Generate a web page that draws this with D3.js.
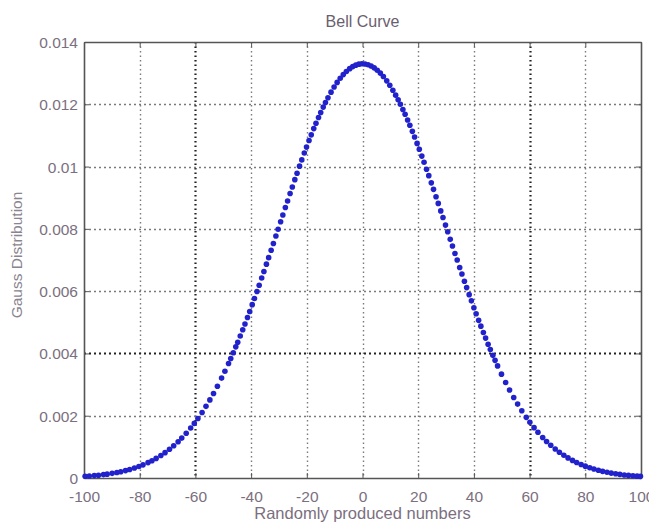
<!DOCTYPE html>
<html>
  <head>
    <meta charset="utf-8">
    <title>Bell Curve</title>
    <script src="https://cdn.jsdelivr.net/npm/d3@7"></script>
    <style>
      body { margin: 0; background: #fff; }
      svg text { font-family: "Liberation Sans", Arial, sans-serif; }
    </style>
  </head>
  <body>
    <div id="chart"></div>
    <script>
    var sampleX = [
      -99.6, -98.1, -96.3, -94.8, -93.0, -91.7, -89.9, -88.2, -86.8, -85.1, -83.6, -81.9,
      -80.3, -78.8, -77.0, -75.6, -74.1, -72.4, -70.9, -69.3, -67.8, -66.2, -64.9, -63.3,
      -61.7, -60.4, -59.1, -57.6, -56.2, -54.8, -53.5, -52.1, -50.6, -49.4,
      -48.1, -47.3, -46.4, -45.5, -44.8, -43.9, -43.0, -42.2, -41.3, -40.5, -39.6, -38.8,
      -37.9, -37.1, -36.2, -35.4, -34.5, -33.7, -32.8, -32.0, -31.1, -30.3, -29.4, -28.6,
      -27.7, -26.9, -26.0, -25.2, -24.3, -23.5, -22.6, -21.8, -20.9, -20.1, -19.2, -18.4,
      -17.5, -16.7, -15.8, -15.0, -14.1, -13.3, -12.4,
      -11.3, -10.2, -9.1, -8.0, -6.9, -5.8, -4.6, -3.5, -2.4, -1.3, -0.2, 0.9, 2.0, 3.1,
      4.2, 5.3, 6.4, 7.5, 8.7, 9.8, 10.9,
      11.9, 12.8, 13.6, 14.5, 15.3, 16.2, 17.0, 17.9, 18.7, 19.6, 20.4, 21.3, 22.1, 23.0,
      23.8, 24.7, 25.5, 26.4, 27.2, 28.1, 28.9, 29.8, 30.6, 31.5, 32.3, 33.2, 34.0, 34.9,
      35.7, 36.6, 37.4, 38.3, 39.1, 40.0, 40.8, 41.7, 42.5, 43.4, 44.2, 45.1, 45.9, 46.8,
      47.6, 48.5,
      49.9, 51.4, 52.8, 54.3, 55.7, 57.2, 58.8, 60.1, 61.6, 63.0, 64.7, 66.1, 67.6, 69.2,
      70.7, 72.3, 73.8, 75.4, 76.9, 78.5, 80.0, 81.6, 83.1, 84.7, 86.2, 87.8, 89.3, 90.9,
      92.4, 94.0, 95.5, 97.1, 98.6, 99.8
    ];
    var gaussY = [
      0.000054, 0.000063, 0.000077, 0.000090, 0.000109, 0.000124, 0.000149, 0.000177, 0.000202, 0.000238, 0.000274, 0.000320,
      0.000370, 0.000422, 0.000494, 0.000556, 0.000630, 0.000723, 0.000814, 0.000923, 0.001034, 0.001165, 0.001281, 0.001436,
      0.001604, 0.001753, 0.001911, 0.002105, 0.002300, 0.002508, 0.002712, 0.002945, 0.003208, 0.003427,
      0.003679, 0.003837, 0.004022, 0.004211, 0.004361, 0.004558, 0.004761, 0.004946, 0.005155, 0.005348, 0.005566, 0.005764,
      0.005989, 0.006191, 0.006423, 0.006631, 0.006867, 0.007076, 0.007315, 0.007529, 0.007773, 0.007987, 0.008230, 0.008446,
      0.008686, 0.008896, 0.009136, 0.009346, 0.009580, 0.009786, 0.010014, 0.010214, 0.010434, 0.010625, 0.010837, 0.011019,
      0.011220, 0.011391, 0.011578, 0.011737, 0.011909, 0.012055, 0.012211,
      0.012389, 0.012553, 0.012702, 0.012836, 0.012953, 0.013054, 0.013144, 0.013210, 0.013257, 0.013288, 0.013300, 0.013294, 0.013271, 0.013229,
      0.013170, 0.013094, 0.013001, 0.012891, 0.012752, 0.012609, 0.012450,
      0.012293, 0.012143, 0.012001, 0.011834, 0.011678, 0.011496, 0.011327, 0.011131, 0.010951, 0.010744, 0.010555, 0.010337, 0.010140, 0.009914,
      0.009709, 0.009477, 0.009268, 0.009031, 0.008818, 0.008577, 0.008363, 0.008121, 0.007906, 0.007663, 0.007449, 0.007210, 0.006998, 0.006761,
      0.006552, 0.006319, 0.006114, 0.005888, 0.005689, 0.005468, 0.005275, 0.005062, 0.004876, 0.004671, 0.004493, 0.004296, 0.004126, 0.003939,
      0.003777, 0.003600,
      0.003334, 0.003065, 0.002826, 0.002585, 0.002373, 0.002160, 0.001948, 0.001788, 0.001616, 0.001467, 0.001300, 0.001174, 0.001050, 0.000930,
      0.000828, 0.000729, 0.000645, 0.000565, 0.000498, 0.000434, 0.000380, 0.000329, 0.000287, 0.000247, 0.000214, 0.000184, 0.000158, 0.000135,
      0.000116, 0.000098, 0.000084, 0.000071, 0.000060, 0.000053
    ];
    var xTicks = [-100, -80, -60, -40, -20, 0, 20, 40, 60, 80, 100];
    var yTicks = [0, 0.002, 0.004, 0.006, 0.008, 0.01, 0.012, 0.014];
    var yTickLabels = ['0', '0.002', '0.004', '0.006', '0.008', '0.01', '0.012', '0.014'];
    var titleText = 'Bell Curve';
    var xLabelText = 'Randomly produced numbers';
    var yLabelText = 'Gauss Distribution';

    (function(){
        var W = 649, H = 524;
        var margin = {top: 42, right: 8, bottom: 46, left: 84};
        var w = W - margin.left - margin.right;
        var h = H - margin.top - margin.bottom;
        var textColor = '#7b6f80';

        var svg = d3.select('#chart').append('svg')
            .attr('width', W)
            .attr('height', H);

        var g = svg.append('g')
            .attr('transform', 'translate(' + margin.left + ',' + margin.top + ')');

        var x = d3.scaleLinear().domain([-100, 100]).range([0, w]);
        var y = d3.scaleLinear().domain([0, 0.014]).range([h, 0]);

        // dotted grid; a few lines come out darker in the picture
        var darkX = [-60, 60];
        var darkY = [0.004];
        g.selectAll('.vgrid')
            .data(xTicks.slice(1, -1))
            .enter().append('line')
            .attr('x1', function(d){ return Math.round(x(d)) + 0.5; })
            .attr('x2', function(d){ return Math.round(x(d)) + 0.5; })
            .attr('y1', 0).attr('y2', h)
            .attr('stroke', function(d){ return darkX.indexOf(d) >= 0 ? '#222' : '#7a7a7a'; })
            .attr('stroke-width', function(d){ return darkX.indexOf(d) >= 0 ? 2.2 : 1.4; })
            .attr('stroke-dasharray', '1.5,3');
        g.selectAll('.hgrid')
            .data(yTicks.slice(1, -1))
            .enter().append('line')
            .attr('y1', function(d){ return Math.round(y(d)) + 0.5; })
            .attr('y2', function(d){ return Math.round(y(d)) + 0.5; })
            .attr('x1', 0).attr('x2', w)
            .attr('stroke', function(d){ return darkY.indexOf(d) >= 0 ? '#222' : '#7a7a7a'; })
            .attr('stroke-width', function(d){ return darkY.indexOf(d) >= 0 ? 2.2 : 1.4; })
            .attr('stroke-dasharray', '2,3');

        // axes with inward ticks, matlab style
        var xAxis = d3.axisBottom(x).tickValues(xTicks).tickSizeInner(-5).tickSizeOuter(0)
            .tickFormat(function(d){ return d; });
        var yAxis = d3.axisLeft(y).tickValues(yTicks).tickSizeInner(-5).tickSizeOuter(0)
            .tickFormat(function(d, i){ return yTickLabels[i]; });

        var gx = g.append('g').attr('transform', 'translate(0,' + h + ')').call(xAxis);
        var gy = g.append('g').call(yAxis);
        g.append('g').call(d3.axisTop(x).tickValues(xTicks).tickSizeInner(-5).tickSizeOuter(0).tickFormat(''));
        g.append('g').attr('transform', 'translate(' + w + ',0)')
            .call(d3.axisRight(y).tickValues(yTicks).tickSizeInner(-5).tickSizeOuter(0).tickFormat(''));

        g.selectAll('.domain').attr('stroke', '#555').attr('stroke-width', 1.6);
        g.selectAll('.tick line').attr('stroke', '#555');

        gx.selectAll('text')
            .attr('dy', null).attr('y', 24)
            .attr('font-size', '15.5px').attr('fill', textColor);
        gy.selectAll('text')
            .attr('x', -6).attr('dy', '0.35em')
            .attr('font-size', '15.5px').attr('fill', textColor);

        // the points
        var pts = sampleX.map(function(v, i){ return [v, gaussY[i]]; });
        g.selectAll('circle')
            .data(pts)
            .enter().append('circle')
            .attr('cx', function(d){ return x(d[0]); })
            .attr('cy', function(d){ return y(d[1]); })
            .attr('r', 2.8)
            .attr('fill', '#2222cc');

        svg.append('text')
            .attr('x', margin.left + x(0)).attr('y', 27)
            .attr('text-anchor', 'middle')
            .attr('font-size', '16px').attr('fill', '#6a5e70')
            .text(titleText);

        svg.append('text')
            .attr('x', margin.left + x(0)).attr('y', 519)
            .attr('text-anchor', 'middle')
            .attr('font-size', '16.5px').attr('fill', textColor)
            .text(xLabelText);

        svg.append('text')
            .attr('transform', 'translate(22,255) rotate(-90)')
            .attr('text-anchor', 'middle')
            .attr('font-size', '15.5px').attr('fill', '#8a8490')
            .text(yLabelText);
    })();
    </script>
  </body>
</html>
